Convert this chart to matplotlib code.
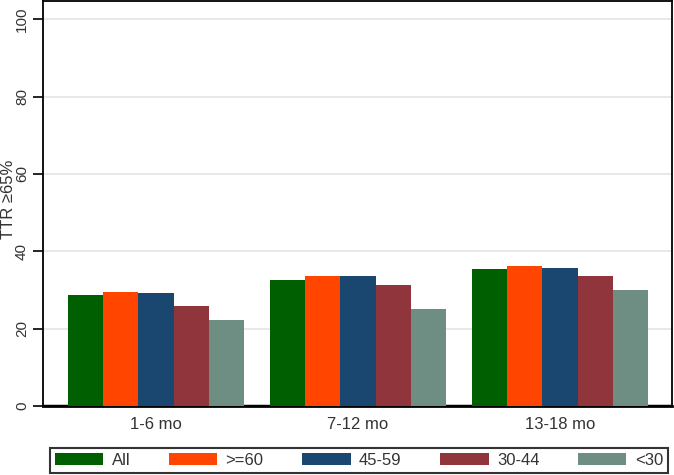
import numpy as np
import matplotlib
matplotlib.use("Agg")
import matplotlib.pyplot as plt

plt.rcParams['font.family'] = ['Liberation Sans', 'DejaVu Sans']

# data
periods = ['1-6 mo', '7-12 mo', '13-18 mo']
groups = ['All', '>=60', '45-59', '30-44', '<30']
ttr_all = [28.8, 32.5, 35.3]
ttr_60plus = [29.5, 33.7, 36.2]
ttr_45_59 = [29.1, 33.7, 35.7]
ttr_30_44 = [25.9, 31.3, 33.7]
ttr_under30 = [22.1, 25.0, 30.0]
yticks = [0, 20, 40, 60, 80, 100]

series = [ttr_all, ttr_60plus, ttr_45_59, ttr_30_44, ttr_under30]
colors = ['#005f00', '#ff4500', '#1a476f', '#90353b', '#6e8e84']

fig = plt.figure(figsize=(6.74, 4.75), dpi=100)
ax = fig.add_axes([0.0638, 0.1453, 0.9332, 0.8527])

x = np.arange(len(periods))
w = 0.175
for i, (vals, col) in enumerate(zip(series, colors)):
    ax.bar(x + (i - 2) * w, vals, width=w, color=col, label=groups[i],
           zorder=3, linewidth=0)

ax.set_xlim(-0.56, 2.555)
ax.set_ylim(0, 104.7)
ax.set_yticks(yticks)
ax.set_yticklabels([str(t) for t in yticks], rotation=90, va='center',
                   fontsize=11, color='#333333')
ax.set_xticks(x)
ax.set_xticklabels(periods, fontsize=12, color='#333333')
ax.tick_params(axis='x', length=0, pad=8)
ax.tick_params(axis='y', length=7, width=1.2, pad=3)

ax.grid(axis='y', color='#e4e4e4', linewidth=1.2, zorder=0)
ax.axhline(0, color='black', linewidth=2.5, zorder=2)
for s in ax.spines.values():
    s.set_linewidth(1.3)
    s.set_color('black')
ax.spines['bottom'].set_linewidth(2)

fig.text(0.012, 0.58, 'TTR \u226565%', rotation=90, ha='center', va='center',
         fontsize=12, color='#333333')

leg = fig.legend(loc='lower left', bbox_to_anchor=(0.074, 0.004, 0.917, 0.059),
                 mode='expand', ncol=5, fontsize=12, frameon=True, fancybox=False,
                 handlelength=2.9, handleheight=0.75, handletextpad=0.5,
                 borderaxespad=0, borderpad=0.3, columnspacing=1.2)
leg.get_frame().set_edgecolor('black')
leg.get_frame().set_linewidth(1.5)
for t in leg.get_texts():
    t.set_color('#333333')

fig.savefig('out.png', dpi=100)
